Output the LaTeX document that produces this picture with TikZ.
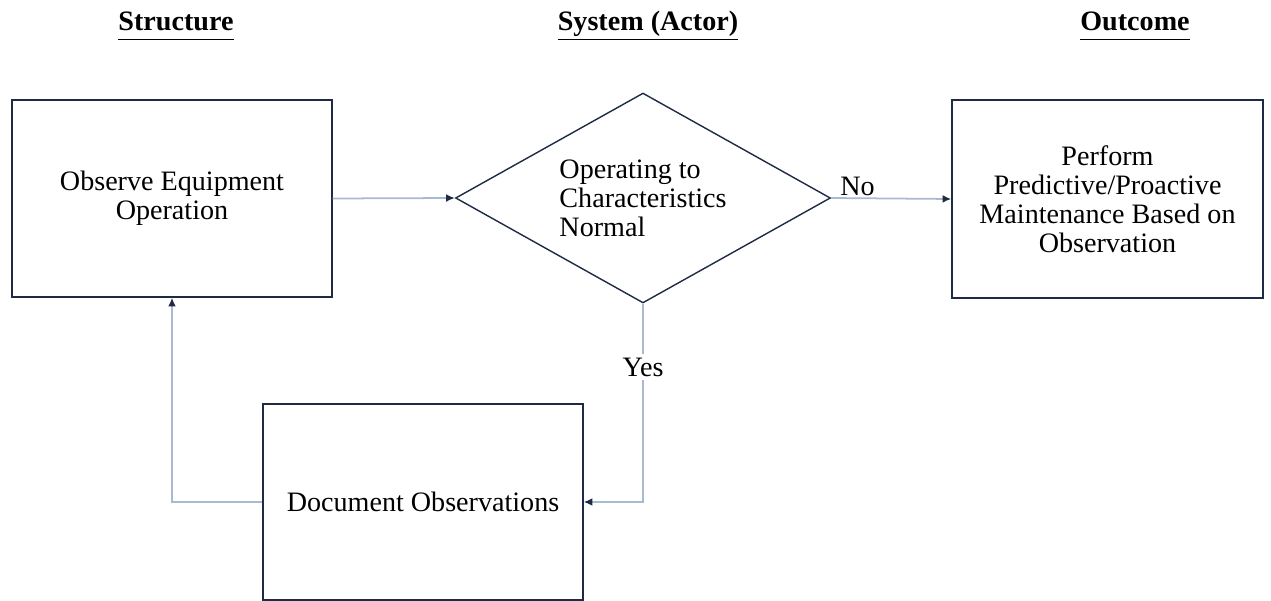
\documentclass[tikz,border=0pt]{standalone}
\usepackage{fontspec}
\setmainfont{Liberation Serif}
\usetikzlibrary{shapes.geometric,arrows.meta}
\definecolor{boxline}{HTML}{1F2A44}
\definecolor{flowline}{HTML}{A9B9D2}
\begin{document}
\begin{tikzpicture}[x=0.02cm, y=-0.02cm,
    every node/.style={font=\fontsize{16}{16.5}\selectfont},
    stepbox/.style={draw=boxline, line width=0.8pt, align=center, inner sep=0pt},
    choice/.style={diamond, aspect=1.8, draw=boxline, line width=0.8pt, align=left, inner sep=0pt,
        minimum width=7.5cm, minimum height=4.2cm},
    flow/.style={draw=flowline, line width=1pt, -{Latex[length=5pt, width=4.5pt, color=boxline]}},
    heading/.style={anchor=base, font=\fontsize{16}{18}\selectfont\bfseries}]
    \useasboundingbox (0,0) rectangle (1271,601);

    \node [heading] (structure) at (176,31) {\underline{\vphantom{()}Structure}};
    \node [heading] (system) at (648,31) {\underline{\vphantom{()}System (Actor)}};
    \node [heading] (outcome) at (1135,31) {\underline{\vphantom{()}Outcome}};

    \node [stepbox, minimum width=6.4cm, minimum height=3.94cm] (observe) at (172,198.5) {Observe Equipment\\Operation};
    \node [choice] (check) at (643,198) {Operating to\\Characteristics\\Normal};
    \node [stepbox, minimum width=6.22cm, minimum height=3.96cm] (perform) at (1107.5,199) {Perform\\Predictive/Proactive\\Maintenance Based on\\Observation};
    \node [stepbox, minimum width=6.4cm, minimum height=3.92cm] (record) at (423,502) {Document Observations};

    \draw [flow] (observe.east) -- (check.west);
    \draw [flow] (check.east) -- node (no) [pos=0.22, above, inner sep=1pt] {No} (perform.west);
    \draw [flow] (check.south) |- node (yes) [pos=0.16, fill=white, inner sep=2pt] {Yes} (record.east);
    \draw [flow] (record.west) -| (observe.south);
\end{tikzpicture}
\end{document}
